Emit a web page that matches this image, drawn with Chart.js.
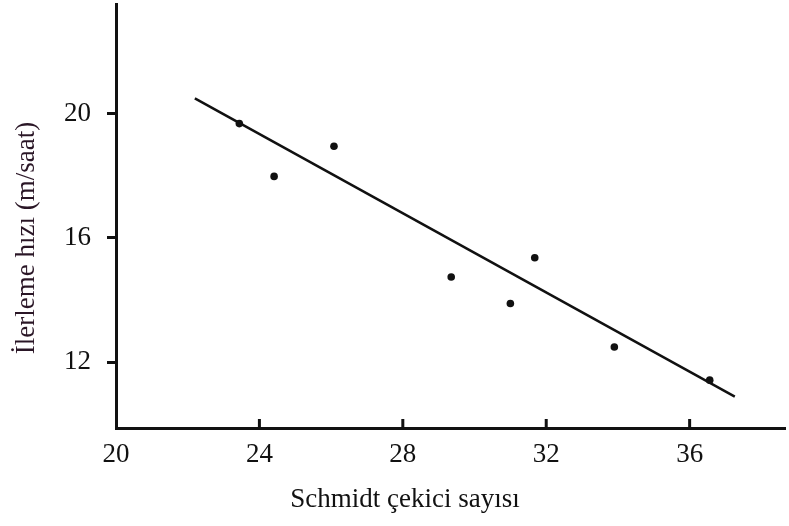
<!DOCTYPE html>
<html>
<head>
<meta charset="utf-8">
<script src="https://cdn.jsdelivr.net/npm/chart.js@4.4.1/dist/chart.umd.min.js"></script>
<style>
  html, body { margin: 0; padding: 0; background: #fff; }
  canvas { display: block; }
</style>
</head>
<body>
<canvas id="rateChart" width="789" height="526"></canvas>
<script>
// Schmidt hammer rebound vs. advance rate
const hammerValues = [23.44, 24.41, 26.08, 29.35, 31.0, 31.68, 33.9, 36.56];
const advanceRates = [19.68, 17.98, 18.95, 14.74, 13.89, 15.36, 12.49, 11.42];

// fitted line, start and end
const fitX = [22.2, 37.26];
const fitY = [20.49, 10.89];

const xTitle = 'Schmidt çekici sayısı';
const yTitle = 'İlerleme hızı (m/saat)';

const serif = "'Liberation Serif', 'Times New Roman', serif";
const ink = '#111';

// x ticks point up into the plot; axis titles at fixed spots
const axisExtras = {
  id: 'axisExtras',
  afterDraw(chart) {
    const ctx = chart.ctx;
    const x = chart.scales.x;
    const bottom = chart.chartArea.bottom;
    ctx.save();
    ctx.strokeStyle = ink;
    ctx.lineWidth = 3;
    x.ticks.forEach(t => {
      if (t.value === x.min) return;
      const px = x.getPixelForValue(t.value);
      ctx.beginPath();
      ctx.moveTo(px, bottom);
      ctx.lineTo(px, bottom - 9);
      ctx.stroke();
    });
    ctx.fillStyle = ink;
    ctx.font = '27px ' + serif;
    ctx.textAlign = 'center';
    ctx.textBaseline = 'middle';
    ctx.fillText(xTitle, 405, 500);
    ctx.translate(27, 238);
    ctx.rotate(-Math.PI / 2);
    ctx.fillStyle = '#2a1626';
    ctx.fillText(yTitle, 0, 0);
    ctx.restore();
  }
};

// no extra room for end labels, the plot box is fixed
const noPad = s => {
  s.paddingTop = 0;
  s.paddingBottom = 0;
  s.paddingLeft = 0;
  s.paddingRight = 0;
};

new Chart(document.getElementById('rateChart'), {
  type: 'scatter',
  data: {
    datasets: [
      {
        data: hammerValues.map((v, i) => ({ x: v, y: advanceRates[i] })),
        backgroundColor: ink,
        borderWidth: 0,
        pointRadius: 3.8,
      },
      {
        type: 'line',
        data: fitX.map((v, i) => ({ x: v, y: fitY[i] })),
        borderColor: ink,
        borderWidth: 2.5,
        pointRadius: 0,
        fill: false,
      },
    ],
  },
  options: {
    responsive: false,
    animation: false,
    events: [],
    layout: { padding: { top: 3, right: 0, left: 0, bottom: 0 } },
    plugins: {
      legend: { display: false },
      tooltip: { enabled: false },
    },
    scales: {
      x: {
        type: 'linear',
        min: 20,
        max: 38.66,
        afterFit: s => { s.height = 98; noPad(s); },
        grid: { display: false },
        border: { display: true, color: ink, width: 3 },
        ticks: {
          stepSize: 4,
          includeBounds: false,
          padding: 3,
          color: ink,
          font: { family: serif, size: 27 },
        },
      },
      y: {
        type: 'linear',
        min: 9.88,
        max: 23.53,
        afterFit: s => { s.width = 116; noPad(s); },
        grid: { drawOnChartArea: false, drawTicks: true, tickLength: 9, color: ink, lineWidth: 3 },
        border: { display: true, color: ink, width: 3 },
        ticks: {
          stepSize: 4,
          includeBounds: false,
          padding: 16,
          color: ink,
          font: { family: serif, size: 27 },
        },
      },
    },
  },
  plugins: [axisExtras],
});
</script>
</body>
</html>
